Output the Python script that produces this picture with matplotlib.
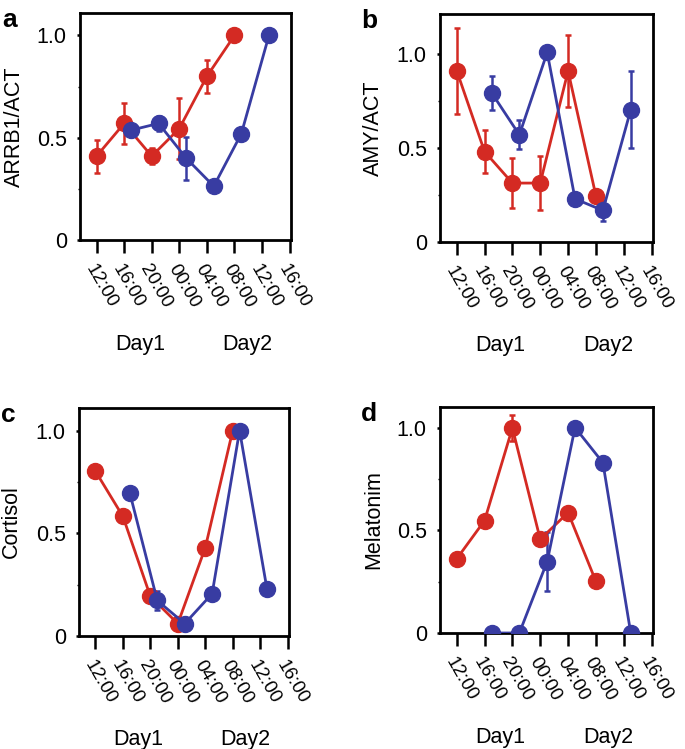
import numpy as np
import matplotlib
matplotlib.use('Agg')
import matplotlib.pyplot as plt
import matplotlib.transforms as mtransforms

plt.rcParams['font.family'] = ['Liberation Sans', 'DejaVu Sans']

RED = '#d42a23'
BLUE = '#383ca2'

# hours after 12:00 on day 1
hours = [0, 4, 8, 12, 16, 20, 24, 28]
hour_labels = ['12:00', '16:00', '20:00', '00:00', '04:00', '08:00', '12:00', '16:00']
red_x = [0, 4, 8, 12, 16, 20]
blue_x = [5, 9, 13, 17, 21, 25]

# a: ARRB1/ACT
arrb_red = [0.41, 0.57, 0.41, 0.545, 0.80, 1.0]
arrb_red_err = [0.08, 0.10, 0.04, 0.15, 0.08, 0.0]
arrb_blue = [0.537, 0.57, 0.40, 0.263, 0.52, 1.0]
arrb_blue_err = [0.0, 0.035, 0.105, 0.0, 0.0, 0.0]

# b: AMY/ACT
amy_red = [0.913, 0.482, 0.314, 0.314, 0.911, 0.246]
amy_red_err = [0.23, 0.115, 0.135, 0.145, 0.19, 0.0]
amy_blue = [0.796, 0.571, 1.01, 0.23, 0.168, 0.704]
amy_blue_err = [0.09, 0.078, 0.0, 0.0, 0.055, 0.205]

# c: Cortisol
cort_red = [0.802, 0.582, 0.193, 0.06, 0.43, 1.0]
cort_blue = [0.697, 0.173, 0.06, 0.206, 1.0, 0.227]
cort_blue_err = [0.0, 0.045, 0.0, 0.0, 0.0, 0.0]

# d: Melatonim
mel_red = [0.361, 0.547, 0.998, 0.456, 0.586, 0.251]
mel_red_err = [0.0, 0.0, 0.065, 0.0, 0.0, 0.0]
mel_blue = [0.0, 0.0, 0.348, 1.0, 0.829, 0.0]
mel_blue_err = [0.0, 0.0, 0.145, 0.0, 0.0, 0.0]

W, H = 685, 749
fig = plt.figure(figsize=(W / 100, H / 100), dpi=100)


def make_ax(left, right, top, bottom):
    return fig.add_axes([left / W, 1 - bottom / H, (right - left) / W, (bottom - top) / H])


def series(ax, x, y, err, color):
    ax.errorbar(x, y, yerr=err, color=color, lw=2.0, marker='o', ms=11.5,
                elinewidth=1.8, capsize=2, capthick=1.8, zorder=3)


def style(ax, ylabel, ytop, letter, lab_x):
    ax.set_xlim(-2.4, 28.2)
    ax.set_ylim(0, ytop)
    ax.set_xticks(hours)
    ax.set_xticklabels(hour_labels, rotation=-60, ha='left', va='top',
                       rotation_mode='anchor', fontsize=13.5)
    ax.set_yticks([0, 0.5, 1.0])
    ax.set_yticklabels(['0', '0.5', '1.0'], fontsize=15.5)
    ax.set_yticks([0.25, 0.75], minor=True)
    ax.tick_params(axis='x', length=9.5, width=1.8, pad=6)
    ax.tick_params(axis='y', which='major', length=2.5, width=1.8, pad=7)
    ax.tick_params(axis='y', which='minor', length=1.5, width=1.0)
    for s in ax.spines.values():
        s.set_linewidth(2.0)
    ax.set_ylabel(ylabel, fontsize=15.5)
    ax.yaxis.set_label_coords(lab_x, 0.5)
    trans = mtransforms.blended_transform_factory(ax.transData, ax.transAxes)
    for xd, txt in [(6.3, 'Day1'), (21.8, 'Day2')]:
        ax.annotate(txt, xy=(xd, 0), xycoords=trans, xytext=(0, -104),
                    textcoords='offset pixels', ha='center', va='center', fontsize=15.5)
    ax.text(-0.37, 1.02, letter, transform=ax.transAxes, fontsize=19, fontweight='bold',
            ha='left', va='top')


ax_a = make_ax(80, 291, 13, 240)
series(ax_a, red_x, arrb_red, arrb_red_err, RED)
series(ax_a, blue_x, arrb_blue, arrb_blue_err, BLUE)
style(ax_a, 'ARRB1/ACT', 1.11, 'a', -0.262)

ax_b = make_ax(440, 653, 14, 242)
series(ax_b, red_x, amy_red, amy_red_err, RED)
series(ax_b, blue_x, amy_blue, amy_blue_err, BLUE)
style(ax_b, 'AMY/ACT', 1.215, 'b', -0.262)

ax_c = make_ax(79, 289, 408, 636)
series(ax_c, red_x, cort_red, None, RED)
series(ax_c, blue_x, cort_blue, cort_blue_err, BLUE)
style(ax_c, 'Cortisol', 1.11, 'c', -0.272)

ax_d = make_ax(440, 653, 407, 633)
series(ax_d, red_x, mel_red, mel_red_err, RED)
series(ax_d, blue_x, mel_blue, mel_blue_err, BLUE)
style(ax_d, 'Melatonim', 1.10, 'd', -0.262)

fig.savefig('out.png', dpi=100)
